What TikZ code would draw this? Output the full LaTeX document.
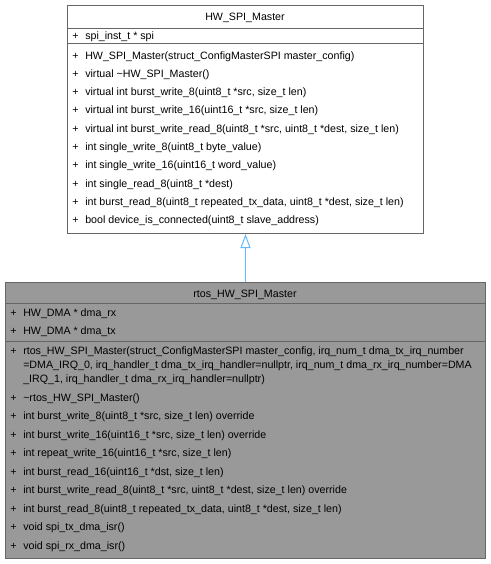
\documentclass[tikz,border=0pt]{standalone}
\usepackage{fontspec}
\usetikzlibrary{arrows.meta}
\newfontfamily\umlfont{Liberation Sans}
\definecolor{umlborder}{HTML}{666666}
\definecolor{umlgray}{HTML}{999999}
\definecolor{umlblue}{HTML}{63B8FF}
\newcommand{\pl}{\makebox[9.75pt][l]{+}}

\begin{document}
\begin{tikzpicture}[x=0.75pt, y=-0.75pt,
	every node/.style={font=\umlfont\fontsize{8}{10.5}\selectfont},
	classbox/.style={draw=umlborder, line width=0.75pt, inner sep=0pt, anchor=north west},
	member/.style={anchor=base west, inner sep=0pt},
	divider/.style={umlborder, line width=0.75pt}]
	\useasboundingbox (0,0) rectangle (491,564);
	% base class
	\node[classbox, fill=white, minimum width=267pt, minimum height=171pt] (master) at (67,5) {};
	\draw[divider] (67,28) -- (423,28);
	\draw[divider] (67,43) -- (423,43);
	\node[anchor=base] (mastertitle) at (245,20) {HW\_SPI\_Master};
	\node[member] (ma1) at (72,39) {\pl spi\_inst\_t * spi};
	\foreach \txt [count=\i from 0] in {
		{HW\_SPI\_Master(struct\_ConfigMasterSPI master\_config)},
		{virtual \textasciitilde HW\_SPI\_Master()},
		{virtual int burst\_write\_8(uint8\_t *src, size\_t len)},
		{virtual int burst\_write\_16(uint16\_t *src, size\_t len)},
		{virtual int burst\_write\_read\_8(uint8\_t *src, uint8\_t *dest, size\_t len)},
		{int single\_write\_8(uint8\_t byte\_value)},
		{int single\_write\_16(uint16\_t word\_value)},
		{int single\_read\_8(uint8\_t *dest)},
		{int burst\_read\_8(uint8\_t repeated\_tx\_data, uint8\_t *dest, size\_t len)},
		{bool device\_is\_connected(uint8\_t slave\_address)}}
		\node[member] (mm\i) at (72,59+18.3*\i) {\pl\txt};
	% derived class
	\node[classbox, fill=umlgray, minimum width=360pt, minimum height=207pt] (rtos) at (5,282) {};
	\draw[divider] (5,303) -- (485,303);
	\draw[divider] (5,341) -- (485,341);
	\node[anchor=base] (rtostitle) at (245,297) {rtos\_HW\_SPI\_Master};
	\node[member] (ra1) at (10,316) {\pl HW\_DMA * dma\_rx};
	\node[member] (ra2) at (10,334) {\pl HW\_DMA * dma\_tx};
	\node[member, align=left] (rctor) at (10,382) {\pl rtos\_HW\_SPI\_Master(struct\_ConfigMasterSPI master\_config, irq\_num\_t dma\_tx\_irq\_number\\
		\hspace*{9.75pt}=DMA\_IRQ\_0, irq\_handler\_t dma\_tx\_irq\_handler=nullptr, irq\_num\_t dma\_rx\_irq\_number=DMA\\
		\hspace*{9.75pt}\_IRQ\_1, irq\_handler\_t dma\_rx\_irq\_handler=nullptr)};
	\foreach \txt [count=\i from 0] in {
		{\textasciitilde rtos\_HW\_SPI\_Master()},
		{int burst\_write\_8(uint8\_t *src, size\_t len) override},
		{int burst\_write\_16(uint16\_t *src, size\_t len) override},
		{int repeat\_write\_16(uint16\_t *src, size\_t len)},
		{int burst\_read\_16(uint16\_t *dst, size\_t len)},
		{int burst\_write\_read\_8(uint8\_t *src, uint8\_t *dest, size\_t len) override},
		{int burst\_read\_8(uint8\_t repeated\_tx\_data, uint8\_t *dest, size\_t len)},
		{void spi\_tx\_dma\_isr()},
		{void spi\_rx\_dma\_isr()}}
		\node[member] (rm\i) at (10,401+18.5*\i) {\pl\txt};
	% inheritance
	\draw[umlblue, line width=0.75pt, -{Triangle[open, length=10.5pt, width=7.5pt]}] (rtos.north) -- (master.south);
\end{tikzpicture}
\end{document}
